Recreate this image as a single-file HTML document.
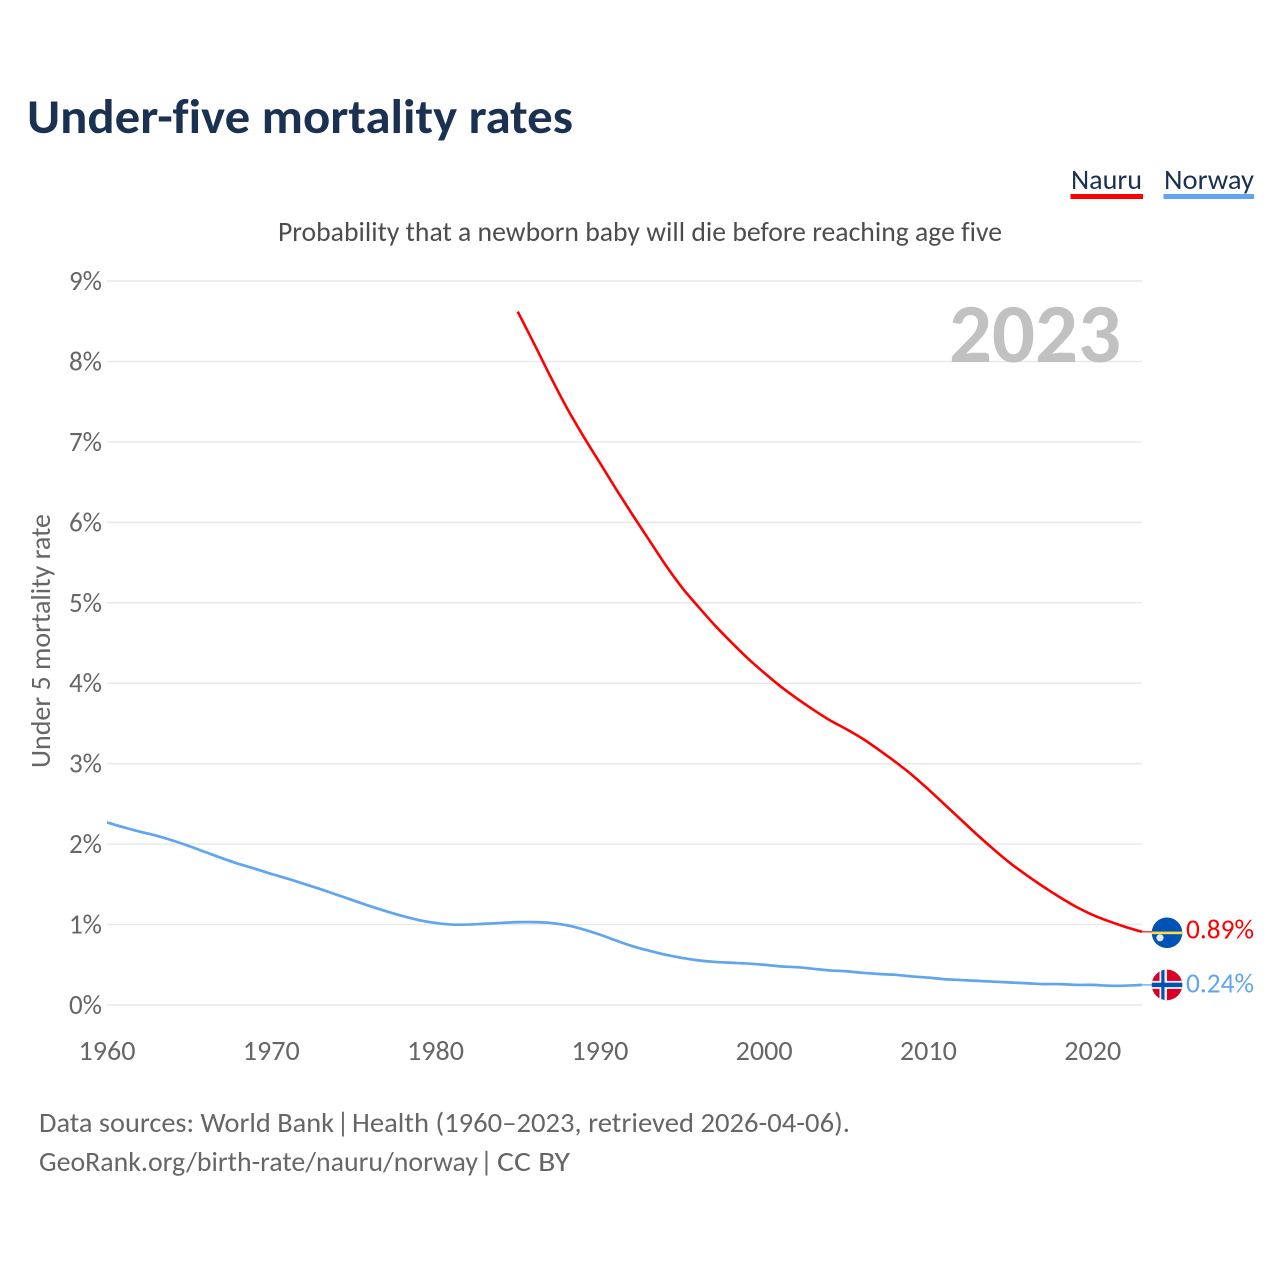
<!DOCTYPE html>
<html lang="en">
<head>
<meta charset="utf-8">
<title>Under-five mortality rates</title>
<style>
html,body{margin:0;padding:0;background:#fff;width:1280px;height:1280px;overflow:hidden}
svg{display:block;font-family:"Carlito","Liberation Sans",sans-serif;font-variant-ligatures:none}
</style>
</head>
<body>
<svg id="chart" xmlns="http://www.w3.org/2000/svg" width="1280" height="1280" viewBox="0 0 1280 1280">
  <rect width="1280" height="1280" fill="#ffffff"/>
  <text x="27" y="133" font-size="49" font-weight="700" fill="#1a3152" textLength="546" lengthAdjust="spacingAndGlyphs">Under-five mortality rates</text>
  <text x="1071" y="189" font-size="28" fill="#1a3152" textLength="71" lengthAdjust="spacingAndGlyphs">Nauru</text>
  <rect x="1070.5" y="194" width="72.5" height="5" fill="#ff0000"/>
  <text x="1164" y="189" font-size="28" fill="#1a3152" textLength="90" lengthAdjust="spacingAndGlyphs">Norway</text>
  <rect x="1163.5" y="194" width="90.5" height="5" fill="#60a5ed"/>
  <text x="278" y="241" font-size="28" fill="#4d4d4d" textLength="724" lengthAdjust="spacingAndGlyphs">Probability that a newborn baby will die before reaching age five</text>
  <g id="grid"></g>
  <g id="yticks"></g>
  <g id="xticks"></g>
  <text transform="translate(50,768) rotate(-90)" font-size="28" fill="#666666" textLength="254" lengthAdjust="spacingAndGlyphs">Under 5 mortality rate</text>
  <text x="949" y="362" font-size="84" font-weight="700" fill="#c1c1c1" textLength="172" lengthAdjust="spacingAndGlyphs">2023</text>
  <g id="series"></g>
  <g id="end-markers"></g>
  <text y="1132" font-size="28" fill="#666666"><tspan x="39" textLength="295" lengthAdjust="spacingAndGlyphs">Data sources: World Bank</tspan><tspan x="336.5">|</tspan><tspan x="352" textLength="498" lengthAdjust="spacingAndGlyphs">Health (1960–2023, retrieved 2026-04-06).</tspan></text>
  <text y="1171" font-size="28" fill="#666666"><tspan x="39" textLength="439" lengthAdjust="spacingAndGlyphs">GeoRank.org/birth-rate/nauru/norway</tspan><tspan x="480">|</tspan><tspan x="497" textLength="73" lengthAdjust="spacingAndGlyphs">CC BY</tspan></text>
</svg>
<script>
var yTicks = [0, 1, 2, 3, 4, 5, 6, 7, 8, 9];
var xTicks = [1960, 1970, 1980, 1990, 2000, 2010, 2020];
var norwayStartYear = 1960;
var norwayValues = [2.27, 2.21, 2.155, 2.105, 2.045, 1.975, 1.90, 1.825, 1.755, 1.695,
  1.63, 1.57, 1.505, 1.44, 1.37, 1.30, 1.23, 1.165, 1.105, 1.055,
  1.02, 1.00, 1.00, 1.01, 1.02, 1.03, 1.03, 1.02, 0.99, 0.94,
  0.875, 0.80, 0.73, 0.675, 0.625, 0.585, 0.555, 0.535, 0.525, 0.515,
  0.50, 0.48, 0.47, 0.45, 0.43, 0.42, 0.40, 0.385, 0.375, 0.355,
  0.34, 0.32, 0.31, 0.30, 0.29, 0.28, 0.27, 0.26, 0.26, 0.25,
  0.25, 0.24, 0.24, 0.25];
var nauruStartYear = 1985;
var nauruValues = [8.62, 8.22, 7.81, 7.42, 7.07, 6.74, 6.41, 6.09, 5.78, 5.47,
  5.19, 4.95, 4.72, 4.51, 4.31, 4.13, 3.96, 3.81, 3.67, 3.54,
  3.43, 3.31, 3.17, 3.02, 2.86, 2.68, 2.49, 2.30, 2.11, 1.93,
  1.76, 1.61, 1.47, 1.34, 1.22, 1.12, 1.04, 0.97, 0.91];
var nauruLabel = "0.89%";
var norwayLabel = "0.24%";

var NS = "http://www.w3.org/2000/svg";
function xScale(year) { return 107 + (year - 1960) * (1142 - 107) / 63; }
function yScale(v) { return 1005 - v * 80.44; }
function make(tag, attrs, parent, text) {
  var el = document.createElementNS(NS, tag);
  for (var k in attrs) el.setAttribute(k, attrs[k]);
  if (text !== undefined) el.textContent = text;
  parent.appendChild(el);
  return el;
}
function smoothPath(start, values) {
  var p = values.map(function (v, i) { return [xScale(start + i), yScale(v)]; });
  var d = "M" + p[0][0].toFixed(2) + " " + p[0][1].toFixed(2);
  for (var i = 0; i < p.length - 1; i++) {
    var a = p[Math.max(i - 1, 0)], b = p[i], c = p[i + 1], e = p[Math.min(i + 2, p.length - 1)];
    d += "C" + (b[0] + (c[0] - a[0]) / 6).toFixed(2) + " " + (b[1] + (c[1] - a[1]) / 6).toFixed(2) +
      " " + (c[0] - (e[0] - b[0]) / 6).toFixed(2) + " " + (c[1] - (e[1] - b[1]) / 6).toFixed(2) +
      " " + c[0].toFixed(2) + " " + c[1].toFixed(2);
  }
  return d;
}

var gridG = document.getElementById("grid");
var yG = document.getElementById("yticks");
var xG = document.getElementById("xticks");
var seriesG = document.getElementById("series");
var endG = document.getElementById("end-markers");

yTicks.forEach(function (t) {
  var line = make("line", {x1: 107, x2: 1142, y1: yScale(t), y2: yScale(t), stroke: "#e9e9e9", "stroke-width": 1.5}, gridG);
  
  
  var label = make("text", {x: 69, y: yScale(t) + 9, "font-size": 28, fill: "#666666", textLength: 33, lengthAdjust: "spacingAndGlyphs"}, yG, t + "%");
  
  
});

xTicks.forEach(function (t) {
  var label = make("text", {x: xScale(t) - 28.5, y: 1060, "font-size": 28, fill: "#666666", textLength: 57, lengthAdjust: "spacingAndGlyphs"}, xG, String(t));
  
  
});

var norwayLine = make("path", {d: smoothPath(norwayStartYear, norwayValues), fill: "none", stroke: "#60a5ed", "stroke-width": 2.7, "stroke-linejoin": "round"}, seriesG);


var nauruLine = make("path", {d: smoothPath(nauruStartYear, nauruValues), fill: "none", stroke: "#ff0000", "stroke-width": 2.6, "stroke-linejoin": "round"}, seriesG);



var nauruY = yScale(nauruValues[nauruValues.length - 1]);
var norwayY = yScale(norwayValues[norwayValues.length - 1]);
var flagX = xScale(2023) + 25;

var nauruTail = make("line", {x1: xScale(2023), x2: flagX, y1: nauruY, y2: nauruY, stroke: "#ff0000", "stroke-width": 1.2}, endG);


var norwayTail = make("line", {x1: xScale(2023), x2: flagX, y1: norwayY, y2: norwayY, stroke: "#60a5ed", "stroke-width": 1.2}, endG);



var clipDefs = make("defs", {}, endG);
var clipA = make("clipPath", {id: "clip-nauru"}, clipDefs);
make("circle", {cx: flagX, cy: nauruY + 1, r: 15.3}, clipA);
var clipB = make("clipPath", {id: "clip-norway"}, clipDefs);
make("circle", {cx: flagX, cy: norwayY, r: 15.3}, clipB);

var nauruFlag = make("g", {"clip-path": "url(#clip-nauru)"}, endG);


make("rect", {x: flagX - 16, y: nauruY - 15, width: 32, height: 32, fill: "#0052b4"}, nauruFlag);
make("rect", {x: flagX - 16, y: nauruY - 0.2, width: 32, height: 2.6, fill: "#ffda44"}, nauruFlag);
make("circle", {cx: flagX - 7, cy: nauruY + 6, r: 3.6, fill: "#e4e8f0"}, nauruFlag);

var norwayFlag = make("g", {"clip-path": "url(#clip-norway)"}, endG);


make("rect", {x: flagX - 16, y: norwayY - 16, width: 32, height: 32, fill: "#d80027"}, norwayFlag);
make("rect", {x: flagX - 7.5, y: norwayY - 16, width: 7.5, height: 32, fill: "#f0f0f0"}, norwayFlag);
make("rect", {x: flagX - 16, y: norwayY - 4, width: 32, height: 8, fill: "#f0f0f0"}, norwayFlag);
make("rect", {x: flagX - 5.7, y: norwayY - 16, width: 3.2, height: 32, fill: "#0052b4"}, norwayFlag);
make("rect", {x: flagX - 16, y: norwayY - 2.2, width: 32, height: 4.4, fill: "#0052b4"}, norwayFlag);

var nauruText = make("text", {x: 1186, y: nauruY + 6.5, "font-size": 28, fill: "#ff0000", textLength: 68, lengthAdjust: "spacingAndGlyphs"}, endG, nauruLabel);


var norwayText = make("text", {x: 1186, y: norwayY + 7.5, "font-size": 28, fill: "#60a5ed", textLength: 68, lengthAdjust: "spacingAndGlyphs"}, endG, norwayLabel);


</script>
</body>
</html>
